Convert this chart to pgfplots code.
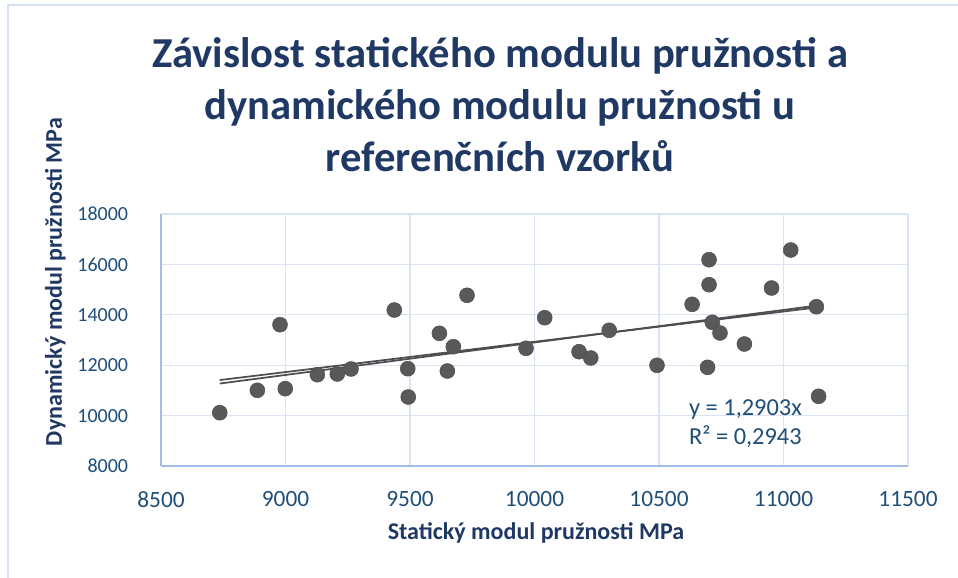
\documentclass[border=0pt]{standalone}
\usepackage{pgfplots}
\pgfplotsset{compat=1.18}
\usepackage{fontspec}
\setmainfont{Carlito}
\definecolor{navy}{HTML}{1F3864}
\definecolor{ticknavy}{HTML}{1F4E79}
\definecolor{gridblue}{HTML}{D9E3F3}
\definecolor{axisblue}{HTML}{A2BEE6}
\definecolor{border}{HTML}{D6E2F3}
\definecolor{marker}{HTML}{595959}
\definecolor{trend}{HTML}{4D4D4D}
\begin{document}
\begin{tikzpicture}
\path[use as bounding box] (0,0) rectangle (718.5pt,433.5pt);
\draw[border, line width=1.6pt] (718.5pt,429.75pt) -- (6pt,429.75pt) -- (6pt,0pt);
\node[anchor=base, font=\fontsize{32pt}{34pt}\selectfont\bfseries, text=navy] at (375pt,382.5pt) {Závislost statického modulu pružnosti a};
\node[anchor=base, font=\fontsize{32pt}{34pt}\selectfont\bfseries, text=navy] at (375pt,343.5pt) {dynamického modulu pružnosti u};
\node[anchor=base, font=\fontsize{32pt}{34pt}\selectfont\bfseries, text=navy] at (375pt,304.5pt) {referenčních vzorků};
\node[rotate=90, font=\fontsize{18pt}{20pt}\selectfont\bfseries, text=navy] at (41.5pt,222pt) {Dynamický modul pružnosti MPa};
\node[font=\fontsize{18pt}{20pt}\selectfont\bfseries, text=navy] at (402pt,33.75pt) {Statický modul pružnosti MPa};
\begin{axis}[
  at={(120.75pt,84pt)}, anchor=south west,
  scale only axis, width=560.25pt, height=189pt,
  xmin=8500, xmax=11500, ymin=8000, ymax=18000,
  xtick={8500,9000,...,11500}, ytick={8000,10000,...,18000},
  scaled ticks=false,
  axis lines*=left,
  axis line style={draw=axisblue, line width=1.2pt, -},
  grid=major,
  major grid style={draw=gridblue, line width=1pt},
  major tick length=0pt,
  /pgf/number format/assume math mode=true,
  /pgf/number format/set thousands separator={},
  xticklabel style={font=\fontsize{17.5pt}{19pt}\selectfont, text=ticknavy, inner sep=0pt, yshift=-19pt},
  yticklabel style={font=\fontsize{15pt}{17pt}\selectfont, text=ticknavy, inner sep=0pt, xshift=-24.5pt},
  clip=false,
]
\addplot[only marks, mark=*, mark size=5.6pt, mark options={fill=marker, draw=marker!85!black}] coordinates {
(8736,10115) (8887,11004) (8978,13607) (8999,11068) (9128,11623) (9208,11651)
(9263,11849) (9437,14190) (9491,11861) (9493,10738) (9618,13266) (9674,12734)
(9650,11770) (9729,14774) (9966,12670) (10041,13885) (10179,12536) (10226,12286)
(10300,13385) (10492,11996) (10633,14416) (10701,16187) (10701,15194) (10714,13702)
(10745,13278) (10695,11916) (10843,12841) (10952,15063) (11029,16571) (11132,14321)
(11141,10766)
};
\addplot[trend, line width=1.3pt] coordinates {(8736,11272) (11141,14375)};
\addplot[trend, line width=1.3pt] coordinates {(8736,11410) (11141,14300)};
\node[anchor=west, inner sep=0pt, text=ticknavy, font=\fontsize{18.3pt}{20pt}\selectfont] at (axis cs:10620,10222) {y = 1,2903x};
\node[anchor=west, inner sep=0pt, text=ticknavy, font=\fontsize{18.3pt}{20pt}\selectfont] at (axis cs:10620,9151) {R² = 0,2943};
\end{axis}
\end{tikzpicture}
\end{document}
